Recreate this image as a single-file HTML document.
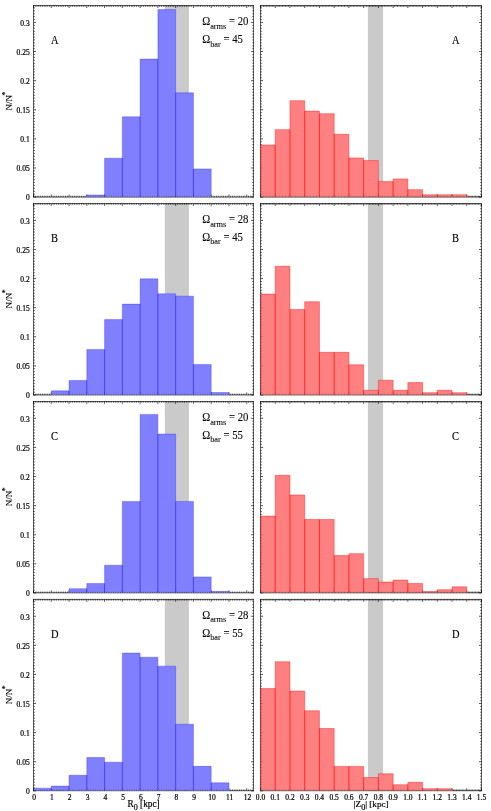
<!DOCTYPE html>
<html><head><meta charset="utf-8"><title>Histograms</title>
<style>html,body{margin:0;padding:0;background:#fff;}body{width:491px;height:811px;overflow:hidden;font-family:"Liberation Serif",serif;}</style>
</head><body>
<svg width="491" height="811" viewBox="0 0 491 811" style="display:block;will-change:transform;opacity:0.999;font-family:'Liberation Serif',serif">
<rect width="491" height="811" fill="#fff"/>
<defs>
<path id="tl" d="M33.5 191.6h2.5M253.7 191.6h-2.5M33.5 188.69h1.3M253.7 188.69h-1.3M33.5 185.78h1.3M253.7 185.78h-1.3M33.5 182.87h1.3M253.7 182.87h-1.3M33.5 179.96h1.3M253.7 179.96h-1.3M33.5 177.05h1.3M253.7 177.05h-1.3M33.5 174.14h1.3M253.7 174.14h-1.3M33.5 171.23h1.3M253.7 171.23h-1.3M33.5 168.32h1.3M253.7 168.32h-1.3M33.5 165.41h1.3M253.7 165.41h-1.3M33.5 162.5h2.5M253.7 162.5h-2.5M33.5 159.59h1.3M253.7 159.59h-1.3M33.5 156.68h1.3M253.7 156.68h-1.3M33.5 153.77h1.3M253.7 153.77h-1.3M33.5 150.86h1.3M253.7 150.86h-1.3M33.5 147.95h1.3M253.7 147.95h-1.3M33.5 145.04h1.3M253.7 145.04h-1.3M33.5 142.13h1.3M253.7 142.13h-1.3M33.5 139.22h1.3M253.7 139.22h-1.3M33.5 136.31h1.3M253.7 136.31h-1.3M33.5 133.4h2.5M253.7 133.4h-2.5M33.5 130.49h1.3M253.7 130.49h-1.3M33.5 127.58h1.3M253.7 127.58h-1.3M33.5 124.67h1.3M253.7 124.67h-1.3M33.5 121.76h1.3M253.7 121.76h-1.3M33.5 118.85h1.3M253.7 118.85h-1.3M33.5 115.94h1.3M253.7 115.94h-1.3M33.5 113.03h1.3M253.7 113.03h-1.3M33.5 110.12h1.3M253.7 110.12h-1.3M33.5 107.21h1.3M253.7 107.21h-1.3M33.5 104.3h2.5M253.7 104.3h-2.5M33.5 101.39h1.3M253.7 101.39h-1.3M33.5 98.48h1.3M253.7 98.48h-1.3M33.5 95.57h1.3M253.7 95.57h-1.3M33.5 92.66h1.3M253.7 92.66h-1.3M33.5 89.75h1.3M253.7 89.75h-1.3M33.5 86.84h1.3M253.7 86.84h-1.3M33.5 83.93h1.3M253.7 83.93h-1.3M33.5 81.02h1.3M253.7 81.02h-1.3M33.5 78.11h1.3M253.7 78.11h-1.3M33.5 75.2h2.5M253.7 75.2h-2.5M33.5 72.29h1.3M253.7 72.29h-1.3M33.5 69.38h1.3M253.7 69.38h-1.3M33.5 66.47h1.3M253.7 66.47h-1.3M33.5 63.56h1.3M253.7 63.56h-1.3M33.5 60.65h1.3M253.7 60.65h-1.3M33.5 57.74h1.3M253.7 57.74h-1.3M33.5 54.83h1.3M253.7 54.83h-1.3M33.5 51.92h1.3M253.7 51.92h-1.3M33.5 49.01h1.3M253.7 49.01h-1.3M33.5 46.1h2.5M253.7 46.1h-2.5M33.5 43.19h1.3M253.7 43.19h-1.3M33.5 40.28h1.3M253.7 40.28h-1.3M33.5 37.37h1.3M253.7 37.37h-1.3M33.5 34.46h1.3M253.7 34.46h-1.3M33.5 31.55h1.3M253.7 31.55h-1.3M33.5 28.64h1.3M253.7 28.64h-1.3M33.5 25.73h1.3M253.7 25.73h-1.3M33.5 22.82h1.3M253.7 22.82h-1.3M33.5 19.91h1.3M253.7 19.91h-1.3M33.5 17h2.5M253.7 17h-2.5M33.5 14.09h1.3M253.7 14.09h-1.3M33.5 11.18h1.3M253.7 11.18h-1.3M33.5 8.27h1.3M253.7 8.27h-1.3M33.5 5.36h1.3M253.7 5.36h-1.3M33.5 2.45h1.3M253.7 2.45h-1.3M33.5 0v2.5M33.5 191.6v-2.5M35.28 0v1.3M35.28 191.6v-1.3M37.05 0v1.3M37.05 191.6v-1.3M38.83 0v1.3M38.83 191.6v-1.3M40.61 0v1.3M40.61 191.6v-1.3M42.39 0v1.3M42.39 191.6v-1.3M44.16 0v1.3M44.16 191.6v-1.3M45.94 0v1.3M45.94 191.6v-1.3M47.72 0v1.3M47.72 191.6v-1.3M49.49 0v1.3M49.49 191.6v-1.3M51.27 0v2.5M51.27 191.6v-2.5M53.05 0v1.3M53.05 191.6v-1.3M54.82 0v1.3M54.82 191.6v-1.3M56.6 0v1.3M56.6 191.6v-1.3M58.38 0v1.3M58.38 191.6v-1.3M60.16 0v1.3M60.16 191.6v-1.3M61.93 0v1.3M61.93 191.6v-1.3M63.71 0v1.3M63.71 191.6v-1.3M65.49 0v1.3M65.49 191.6v-1.3M67.26 0v1.3M67.26 191.6v-1.3M69.04 0v2.5M69.04 191.6v-2.5M70.82 0v1.3M70.82 191.6v-1.3M72.59 0v1.3M72.59 191.6v-1.3M74.37 0v1.3M74.37 191.6v-1.3M76.15 0v1.3M76.15 191.6v-1.3M77.93 0v1.3M77.93 191.6v-1.3M79.7 0v1.3M79.7 191.6v-1.3M81.48 0v1.3M81.48 191.6v-1.3M83.26 0v1.3M83.26 191.6v-1.3M85.03 0v1.3M85.03 191.6v-1.3M86.81 0v2.5M86.81 191.6v-2.5M88.59 0v1.3M88.59 191.6v-1.3M90.36 0v1.3M90.36 191.6v-1.3M92.14 0v1.3M92.14 191.6v-1.3M93.92 0v1.3M93.92 191.6v-1.3M95.7 0v1.3M95.7 191.6v-1.3M97.47 0v1.3M97.47 191.6v-1.3M99.25 0v1.3M99.25 191.6v-1.3M101.03 0v1.3M101.03 191.6v-1.3M102.8 0v1.3M102.8 191.6v-1.3M104.58 0v2.5M104.58 191.6v-2.5M106.36 0v1.3M106.36 191.6v-1.3M108.13 0v1.3M108.13 191.6v-1.3M109.91 0v1.3M109.91 191.6v-1.3M111.69 0v1.3M111.69 191.6v-1.3M113.47 0v1.3M113.47 191.6v-1.3M115.24 0v1.3M115.24 191.6v-1.3M117.02 0v1.3M117.02 191.6v-1.3M118.8 0v1.3M118.8 191.6v-1.3M120.57 0v1.3M120.57 191.6v-1.3M122.35 0v2.5M122.35 191.6v-2.5M124.13 0v1.3M124.13 191.6v-1.3M125.9 0v1.3M125.9 191.6v-1.3M127.68 0v1.3M127.68 191.6v-1.3M129.46 0v1.3M129.46 191.6v-1.3M131.24 0v1.3M131.24 191.6v-1.3M133.01 0v1.3M133.01 191.6v-1.3M134.79 0v1.3M134.79 191.6v-1.3M136.57 0v1.3M136.57 191.6v-1.3M138.34 0v1.3M138.34 191.6v-1.3M140.12 0v2.5M140.12 191.6v-2.5M141.9 0v1.3M141.9 191.6v-1.3M143.67 0v1.3M143.67 191.6v-1.3M145.45 0v1.3M145.45 191.6v-1.3M147.23 0v1.3M147.23 191.6v-1.3M149 0v1.3M149 191.6v-1.3M150.78 0v1.3M150.78 191.6v-1.3M152.56 0v1.3M152.56 191.6v-1.3M154.34 0v1.3M154.34 191.6v-1.3M156.11 0v1.3M156.11 191.6v-1.3M157.89 0v2.5M157.89 191.6v-2.5M159.67 0v1.3M159.67 191.6v-1.3M161.44 0v1.3M161.44 191.6v-1.3M163.22 0v1.3M163.22 191.6v-1.3M165 0v1.3M165 191.6v-1.3M166.78 0v1.3M166.78 191.6v-1.3M168.55 0v1.3M168.55 191.6v-1.3M170.33 0v1.3M170.33 191.6v-1.3M172.11 0v1.3M172.11 191.6v-1.3M173.88 0v1.3M173.88 191.6v-1.3M175.66 0v2.5M175.66 191.6v-2.5M177.44 0v1.3M177.44 191.6v-1.3M179.21 0v1.3M179.21 191.6v-1.3M180.99 0v1.3M180.99 191.6v-1.3M182.77 0v1.3M182.77 191.6v-1.3M184.55 0v1.3M184.55 191.6v-1.3M186.32 0v1.3M186.32 191.6v-1.3M188.1 0v1.3M188.1 191.6v-1.3M189.88 0v1.3M189.88 191.6v-1.3M191.65 0v1.3M191.65 191.6v-1.3M193.43 0v2.5M193.43 191.6v-2.5M195.21 0v1.3M195.21 191.6v-1.3M196.98 0v1.3M196.98 191.6v-1.3M198.76 0v1.3M198.76 191.6v-1.3M200.54 0v1.3M200.54 191.6v-1.3M202.32 0v1.3M202.32 191.6v-1.3M204.09 0v1.3M204.09 191.6v-1.3M205.87 0v1.3M205.87 191.6v-1.3M207.65 0v1.3M207.65 191.6v-1.3M209.42 0v1.3M209.42 191.6v-1.3M211.2 0v2.5M211.2 191.6v-2.5M212.98 0v1.3M212.98 191.6v-1.3M214.75 0v1.3M214.75 191.6v-1.3M216.53 0v1.3M216.53 191.6v-1.3M218.31 0v1.3M218.31 191.6v-1.3M220.09 0v1.3M220.09 191.6v-1.3M221.86 0v1.3M221.86 191.6v-1.3M223.64 0v1.3M223.64 191.6v-1.3M225.42 0v1.3M225.42 191.6v-1.3M227.19 0v1.3M227.19 191.6v-1.3M228.97 0v2.5M228.97 191.6v-2.5M230.75 0v1.3M230.75 191.6v-1.3M232.52 0v1.3M232.52 191.6v-1.3M234.3 0v1.3M234.3 191.6v-1.3M236.08 0v1.3M236.08 191.6v-1.3M237.86 0v1.3M237.86 191.6v-1.3M239.63 0v1.3M239.63 191.6v-1.3M241.41 0v1.3M241.41 191.6v-1.3M243.19 0v1.3M243.19 191.6v-1.3M244.96 0v1.3M244.96 191.6v-1.3M246.74 0v2.5M246.74 191.6v-2.5M248.52 0v1.3M248.52 191.6v-1.3M250.29 0v1.3M250.29 191.6v-1.3M252.07 0v1.3M252.07 191.6v-1.3" fill="none" stroke="#000" stroke-opacity="0.8" stroke-width="0.75"/>
<path id="tr" d="M260.5 191.6h2.5M481.55 191.6h-2.5M260.5 188.69h1.3M481.55 188.69h-1.3M260.5 185.78h1.3M481.55 185.78h-1.3M260.5 182.87h1.3M481.55 182.87h-1.3M260.5 179.96h1.3M481.55 179.96h-1.3M260.5 177.05h1.3M481.55 177.05h-1.3M260.5 174.14h1.3M481.55 174.14h-1.3M260.5 171.23h1.3M481.55 171.23h-1.3M260.5 168.32h1.3M481.55 168.32h-1.3M260.5 165.41h1.3M481.55 165.41h-1.3M260.5 162.5h2.5M481.55 162.5h-2.5M260.5 159.59h1.3M481.55 159.59h-1.3M260.5 156.68h1.3M481.55 156.68h-1.3M260.5 153.77h1.3M481.55 153.77h-1.3M260.5 150.86h1.3M481.55 150.86h-1.3M260.5 147.95h1.3M481.55 147.95h-1.3M260.5 145.04h1.3M481.55 145.04h-1.3M260.5 142.13h1.3M481.55 142.13h-1.3M260.5 139.22h1.3M481.55 139.22h-1.3M260.5 136.31h1.3M481.55 136.31h-1.3M260.5 133.4h2.5M481.55 133.4h-2.5M260.5 130.49h1.3M481.55 130.49h-1.3M260.5 127.58h1.3M481.55 127.58h-1.3M260.5 124.67h1.3M481.55 124.67h-1.3M260.5 121.76h1.3M481.55 121.76h-1.3M260.5 118.85h1.3M481.55 118.85h-1.3M260.5 115.94h1.3M481.55 115.94h-1.3M260.5 113.03h1.3M481.55 113.03h-1.3M260.5 110.12h1.3M481.55 110.12h-1.3M260.5 107.21h1.3M481.55 107.21h-1.3M260.5 104.3h2.5M481.55 104.3h-2.5M260.5 101.39h1.3M481.55 101.39h-1.3M260.5 98.48h1.3M481.55 98.48h-1.3M260.5 95.57h1.3M481.55 95.57h-1.3M260.5 92.66h1.3M481.55 92.66h-1.3M260.5 89.75h1.3M481.55 89.75h-1.3M260.5 86.84h1.3M481.55 86.84h-1.3M260.5 83.93h1.3M481.55 83.93h-1.3M260.5 81.02h1.3M481.55 81.02h-1.3M260.5 78.11h1.3M481.55 78.11h-1.3M260.5 75.2h2.5M481.55 75.2h-2.5M260.5 72.29h1.3M481.55 72.29h-1.3M260.5 69.38h1.3M481.55 69.38h-1.3M260.5 66.47h1.3M481.55 66.47h-1.3M260.5 63.56h1.3M481.55 63.56h-1.3M260.5 60.65h1.3M481.55 60.65h-1.3M260.5 57.74h1.3M481.55 57.74h-1.3M260.5 54.83h1.3M481.55 54.83h-1.3M260.5 51.92h1.3M481.55 51.92h-1.3M260.5 49.01h1.3M481.55 49.01h-1.3M260.5 46.1h2.5M481.55 46.1h-2.5M260.5 43.19h1.3M481.55 43.19h-1.3M260.5 40.28h1.3M481.55 40.28h-1.3M260.5 37.37h1.3M481.55 37.37h-1.3M260.5 34.46h1.3M481.55 34.46h-1.3M260.5 31.55h1.3M481.55 31.55h-1.3M260.5 28.64h1.3M481.55 28.64h-1.3M260.5 25.73h1.3M481.55 25.73h-1.3M260.5 22.82h1.3M481.55 22.82h-1.3M260.5 19.91h1.3M481.55 19.91h-1.3M260.5 17h2.5M481.55 17h-2.5M260.5 14.09h1.3M481.55 14.09h-1.3M260.5 11.18h1.3M481.55 11.18h-1.3M260.5 8.27h1.3M481.55 8.27h-1.3M260.5 5.36h1.3M481.55 5.36h-1.3M260.5 2.45h1.3M481.55 2.45h-1.3M260.5 0v2.5M260.5 191.6v-2.5M261.97 0v1.3M261.97 191.6v-1.3M263.45 0v1.3M263.45 191.6v-1.3M264.92 0v1.3M264.92 191.6v-1.3M266.39 0v1.3M266.39 191.6v-1.3M267.87 0v1.3M267.87 191.6v-1.3M269.34 0v1.3M269.34 191.6v-1.3M270.81 0v1.3M270.81 191.6v-1.3M272.29 0v1.3M272.29 191.6v-1.3M273.76 0v1.3M273.76 191.6v-1.3M275.23 0v2.5M275.23 191.6v-2.5M276.71 0v1.3M276.71 191.6v-1.3M278.18 0v1.3M278.18 191.6v-1.3M279.65 0v1.3M279.65 191.6v-1.3M281.13 0v1.3M281.13 191.6v-1.3M282.6 0v1.3M282.6 191.6v-1.3M284.07 0v1.3M284.07 191.6v-1.3M285.55 0v1.3M285.55 191.6v-1.3M287.02 0v1.3M287.02 191.6v-1.3M288.49 0v1.3M288.49 191.6v-1.3M289.97 0v2.5M289.97 191.6v-2.5M291.44 0v1.3M291.44 191.6v-1.3M292.91 0v1.3M292.91 191.6v-1.3M294.39 0v1.3M294.39 191.6v-1.3M295.86 0v1.3M295.86 191.6v-1.3M297.33 0v1.3M297.33 191.6v-1.3M298.81 0v1.3M298.81 191.6v-1.3M300.28 0v1.3M300.28 191.6v-1.3M301.75 0v1.3M301.75 191.6v-1.3M303.23 0v1.3M303.23 191.6v-1.3M304.7 0v2.5M304.7 191.6v-2.5M306.17 0v1.3M306.17 191.6v-1.3M307.65 0v1.3M307.65 191.6v-1.3M309.12 0v1.3M309.12 191.6v-1.3M310.59 0v1.3M310.59 191.6v-1.3M312.07 0v1.3M312.07 191.6v-1.3M313.54 0v1.3M313.54 191.6v-1.3M315.01 0v1.3M315.01 191.6v-1.3M316.49 0v1.3M316.49 191.6v-1.3M317.96 0v1.3M317.96 191.6v-1.3M319.43 0v2.5M319.43 191.6v-2.5M320.91 0v1.3M320.91 191.6v-1.3M322.38 0v1.3M322.38 191.6v-1.3M323.85 0v1.3M323.85 191.6v-1.3M325.33 0v1.3M325.33 191.6v-1.3M326.8 0v1.3M326.8 191.6v-1.3M328.27 0v1.3M328.27 191.6v-1.3M329.75 0v1.3M329.75 191.6v-1.3M331.22 0v1.3M331.22 191.6v-1.3M332.69 0v1.3M332.69 191.6v-1.3M334.17 0v2.5M334.17 191.6v-2.5M335.64 0v1.3M335.64 191.6v-1.3M337.11 0v1.3M337.11 191.6v-1.3M338.58 0v1.3M338.58 191.6v-1.3M340.06 0v1.3M340.06 191.6v-1.3M341.53 0v1.3M341.53 191.6v-1.3M343 0v1.3M343 191.6v-1.3M344.48 0v1.3M344.48 191.6v-1.3M345.95 0v1.3M345.95 191.6v-1.3M347.42 0v1.3M347.42 191.6v-1.3M348.9 0v2.5M348.9 191.6v-2.5M350.37 0v1.3M350.37 191.6v-1.3M351.84 0v1.3M351.84 191.6v-1.3M353.32 0v1.3M353.32 191.6v-1.3M354.79 0v1.3M354.79 191.6v-1.3M356.26 0v1.3M356.26 191.6v-1.3M357.74 0v1.3M357.74 191.6v-1.3M359.21 0v1.3M359.21 191.6v-1.3M360.68 0v1.3M360.68 191.6v-1.3M362.16 0v1.3M362.16 191.6v-1.3M363.63 0v2.5M363.63 191.6v-2.5M365.1 0v1.3M365.1 191.6v-1.3M366.58 0v1.3M366.58 191.6v-1.3M368.05 0v1.3M368.05 191.6v-1.3M369.52 0v1.3M369.52 191.6v-1.3M371 0v1.3M371 191.6v-1.3M372.47 0v1.3M372.47 191.6v-1.3M373.94 0v1.3M373.94 191.6v-1.3M375.42 0v1.3M375.42 191.6v-1.3M376.89 0v1.3M376.89 191.6v-1.3M378.36 0v2.5M378.36 191.6v-2.5M379.84 0v1.3M379.84 191.6v-1.3M381.31 0v1.3M381.31 191.6v-1.3M382.78 0v1.3M382.78 191.6v-1.3M384.26 0v1.3M384.26 191.6v-1.3M385.73 0v1.3M385.73 191.6v-1.3M387.2 0v1.3M387.2 191.6v-1.3M388.68 0v1.3M388.68 191.6v-1.3M390.15 0v1.3M390.15 191.6v-1.3M391.62 0v1.3M391.62 191.6v-1.3M393.1 0v2.5M393.1 191.6v-2.5M394.57 0v1.3M394.57 191.6v-1.3M396.04 0v1.3M396.04 191.6v-1.3M397.52 0v1.3M397.52 191.6v-1.3M398.99 0v1.3M398.99 191.6v-1.3M400.46 0v1.3M400.46 191.6v-1.3M401.94 0v1.3M401.94 191.6v-1.3M403.41 0v1.3M403.41 191.6v-1.3M404.88 0v1.3M404.88 191.6v-1.3M406.36 0v1.3M406.36 191.6v-1.3M407.83 0v2.5M407.83 191.6v-2.5M409.3 0v1.3M409.3 191.6v-1.3M410.78 0v1.3M410.78 191.6v-1.3M412.25 0v1.3M412.25 191.6v-1.3M413.72 0v1.3M413.72 191.6v-1.3M415.2 0v1.3M415.2 191.6v-1.3M416.67 0v1.3M416.67 191.6v-1.3M418.14 0v1.3M418.14 191.6v-1.3M419.62 0v1.3M419.62 191.6v-1.3M421.09 0v1.3M421.09 191.6v-1.3M422.56 0v2.5M422.56 191.6v-2.5M424.04 0v1.3M424.04 191.6v-1.3M425.51 0v1.3M425.51 191.6v-1.3M426.98 0v1.3M426.98 191.6v-1.3M428.46 0v1.3M428.46 191.6v-1.3M429.93 0v1.3M429.93 191.6v-1.3M431.4 0v1.3M431.4 191.6v-1.3M432.88 0v1.3M432.88 191.6v-1.3M434.35 0v1.3M434.35 191.6v-1.3M435.82 0v1.3M435.82 191.6v-1.3M437.3 0v2.5M437.3 191.6v-2.5M438.77 0v1.3M438.77 191.6v-1.3M440.24 0v1.3M440.24 191.6v-1.3M441.72 0v1.3M441.72 191.6v-1.3M443.19 0v1.3M443.19 191.6v-1.3M444.66 0v1.3M444.66 191.6v-1.3M446.14 0v1.3M446.14 191.6v-1.3M447.61 0v1.3M447.61 191.6v-1.3M449.08 0v1.3M449.08 191.6v-1.3M450.56 0v1.3M450.56 191.6v-1.3M452.03 0v2.5M452.03 191.6v-2.5M453.5 0v1.3M453.5 191.6v-1.3M454.98 0v1.3M454.98 191.6v-1.3M456.45 0v1.3M456.45 191.6v-1.3M457.92 0v1.3M457.92 191.6v-1.3M459.4 0v1.3M459.4 191.6v-1.3M460.87 0v1.3M460.87 191.6v-1.3M462.34 0v1.3M462.34 191.6v-1.3M463.82 0v1.3M463.82 191.6v-1.3M465.29 0v1.3M465.29 191.6v-1.3M466.76 0v2.5M466.76 191.6v-2.5M468.24 0v1.3M468.24 191.6v-1.3M469.71 0v1.3M469.71 191.6v-1.3M471.18 0v1.3M471.18 191.6v-1.3M472.66 0v1.3M472.66 191.6v-1.3M474.13 0v1.3M474.13 191.6v-1.3M475.6 0v1.3M475.6 191.6v-1.3M477.08 0v1.3M477.08 191.6v-1.3M478.55 0v1.3M478.55 191.6v-1.3M480.02 0v1.3M480.02 191.6v-1.3M481.5 0v2.5M481.5 191.6v-2.5" fill="none" stroke="#000" stroke-opacity="0.8" stroke-width="0.75"/>
</defs>
<rect x="164.82" y="5.47" width="24.08" height="191.6" fill="#cacaca"/>
<use href="#tl" y="5.47"/>
<rect x="33.5" y="5.47" width="220.2" height="191.6" fill="none" stroke="#000" stroke-width="0.62"/>
<path d="M86.81 196.77V194.95H104.58V196.77ZM104.58 196.77V158.17H122.35V196.77ZM122.35 196.77V116.79H140.12V196.77ZM140.12 196.77V59.05H157.89V196.77ZM157.89 196.77V9.58H175.66V196.77ZM175.66 196.77V92.81H193.43V196.77ZM193.43 196.77V168.88H211.2V196.77Z" fill="#8080ff"/>
<path d="M86.81 196.77V194.95H104.58V196.77M104.58 196.77V158.17H122.35V196.77M122.35 196.77V116.79H140.12V196.77M140.12 196.77V59.05H157.89V196.77M157.89 196.77V9.58H175.66V196.77M175.66 196.77V92.81H193.43V196.77M193.43 196.77V168.88H211.2V196.77" fill="none" stroke="#0000ff" stroke-opacity="0.27" stroke-width="1"/>
<use href="#tl" y="5.47" opacity="0.3"/>
<rect x="367.9" y="5.47" width="15.17" height="191.6" fill="#cacaca"/>
<use href="#tr" y="5.47"/>
<rect x="260.5" y="5.47" width="221.05" height="191.6" fill="none" stroke="#000" stroke-width="0.62"/>
<path d="M260.85 196.77V144.96H275.23V196.77ZM275.23 196.77V129.65H289.97V196.77ZM289.97 196.77V100.67H304.7V196.77ZM304.7 196.77V111.08H319.43V196.77ZM319.43 196.77V113.7H334.17V196.77ZM334.17 196.77V134.25H348.9V196.77ZM348.9 196.77V157.99H363.63V196.77ZM363.63 196.77V160.61H378.36V196.77ZM378.36 196.77V181.45H393.1V196.77ZM393.1 196.77V178.89H407.83V196.77ZM407.83 196.77V189.65H422.56V196.77ZM422.56 196.77V194.78H437.3V196.77ZM437.3 196.77V194.78H452.03V196.77ZM452.03 196.77V194.78H466.76V196.77Z" fill="#ff8080"/>
<path d="M260.85 196.77V144.96H275.23V196.77M275.23 196.77V129.65H289.97V196.77M289.97 196.77V100.67H304.7V196.77M304.7 196.77V111.08H319.43V196.77M319.43 196.77V113.7H334.17V196.77M334.17 196.77V134.25H348.9V196.77M348.9 196.77V157.99H363.63V196.77M363.63 196.77V160.61H378.36V196.77M378.36 196.77V181.45H393.1V196.77M393.1 196.77V178.89H407.83V196.77M407.83 196.77V189.65H422.56V196.77M422.56 196.77V194.78H437.3V196.77M437.3 196.77V194.78H452.03V196.77M452.03 196.77V194.78H466.76V196.77" fill="none" stroke="#ff0000" stroke-opacity="0.38" stroke-width="1"/>
<use href="#tr" y="5.47" opacity="0.3"/>
<text transform="translate(29.7 200.47) scale(0.94 1)" font-size="8" text-anchor="end" stroke="#000" stroke-width="0.22">0</text>
<text transform="translate(29.7 171.37) scale(0.94 1)" font-size="8" text-anchor="end" stroke="#000" stroke-width="0.22">0.05</text>
<text transform="translate(29.7 142.27) scale(0.94 1)" font-size="8" text-anchor="end" stroke="#000" stroke-width="0.22">0.1</text>
<text transform="translate(29.7 113.17) scale(0.94 1)" font-size="8" text-anchor="end" stroke="#000" stroke-width="0.22">0.15</text>
<text transform="translate(29.7 84.07) scale(0.94 1)" font-size="8" text-anchor="end" stroke="#000" stroke-width="0.22">0.2</text>
<text transform="translate(29.7 54.97) scale(0.94 1)" font-size="8" text-anchor="end" stroke="#000" stroke-width="0.22">0.25</text>
<text transform="translate(29.7 25.87) scale(0.94 1)" font-size="8" text-anchor="end" stroke="#000" stroke-width="0.22">0.3</text>
<text transform="translate(12.1 110.47) rotate(-90)" font-size="9.1" stroke="#000" stroke-width="0.1">N/N<tspan dy="-4.2" dx="-0.6" font-size="7.5">*</tspan></text>
<text transform="translate(51.1 43.97) scale(0.9 1)" font-size="11.6" stroke="#000" stroke-width="0.15">A</text>
<text transform="translate(451.9 43.97) scale(0.9 1)" font-size="11.6" stroke="#000" stroke-width="0.15">A</text>
<text transform="translate(202.2 25.27) scale(0.915 1)" font-size="11.7" stroke="#000" stroke-width="0.08">Ω<tspan dy="3.4" font-size="9.1">arms</tspan><tspan dy="-3.4"> = 20</tspan></text>
<text transform="translate(202.2 43.17) scale(0.915 1)" font-size="11.7" stroke="#000" stroke-width="0.08">Ω<tspan dy="3.4" font-size="9.1">bar</tspan><tspan dy="-3.4"> = 45</tspan></text>
<rect x="164.82" y="203.39" width="24.08" height="191.6" fill="#cacaca"/>
<use href="#tl" y="203.39"/>
<rect x="33.5" y="203.39" width="220.2" height="191.6" fill="none" stroke="#000" stroke-width="0.62"/>
<path d="M51.27 394.69V390.83H69.04V394.69ZM69.04 394.69V380.47H86.81V394.69ZM86.81 394.69V349.57H104.58V394.69ZM104.58 394.69V319.6H122.35V394.69ZM122.35 394.69V304.12H140.12V394.69ZM140.12 394.69V278.8H157.89V394.69ZM157.89 394.69V293.81H175.66V394.69ZM175.66 394.69V296.14H193.43V394.69ZM193.43 394.69V364.53H211.2V394.69ZM211.2 394.69V392.46H228.97V394.69Z" fill="#8080ff"/>
<path d="M51.27 394.69V390.83H69.04V394.69M69.04 394.69V380.47H86.81V394.69M86.81 394.69V349.57H104.58V394.69M104.58 394.69V319.6H122.35V394.69M122.35 394.69V304.12H140.12V394.69M140.12 394.69V278.8H157.89V394.69M157.89 394.69V293.81H175.66V394.69M175.66 394.69V296.14H193.43V394.69M193.43 394.69V364.53H211.2V394.69M211.2 394.69V392.46H228.97V394.69" fill="none" stroke="#0000ff" stroke-opacity="0.27" stroke-width="1"/>
<use href="#tl" y="203.39" opacity="0.3"/>
<rect x="367.9" y="203.39" width="15.17" height="191.6" fill="#cacaca"/>
<use href="#tr" y="203.39"/>
<rect x="260.5" y="203.39" width="221.05" height="191.6" fill="none" stroke="#000" stroke-width="0.62"/>
<path d="M260.85 394.69V294.11H275.23V394.69ZM275.23 394.69V266.29H289.97V394.69ZM289.97 394.69V309.47H304.7V394.69ZM304.7 394.69V301.79H319.43V394.69ZM319.43 394.69V352.31H334.17V394.69ZM334.17 394.69V352.31H348.9V394.69ZM348.9 394.69V364.82H363.63V394.69ZM363.63 394.69V390.25H378.36V394.69ZM378.36 394.69V380.18H393.1V394.69ZM393.1 394.69V390.25H407.83V394.69ZM407.83 394.69V382.57H422.56V394.69ZM422.56 394.69V392.7H437.3V394.69ZM437.3 394.69V390.25H452.03V394.69ZM452.03 394.69V392.7H466.76V394.69Z" fill="#ff8080"/>
<path d="M260.85 394.69V294.11H275.23V394.69M275.23 394.69V266.29H289.97V394.69M289.97 394.69V309.47H304.7V394.69M304.7 394.69V301.79H319.43V394.69M319.43 394.69V352.31H334.17V394.69M334.17 394.69V352.31H348.9V394.69M348.9 394.69V364.82H363.63V394.69M363.63 394.69V390.25H378.36V394.69M378.36 394.69V380.18H393.1V394.69M393.1 394.69V390.25H407.83V394.69M407.83 394.69V382.57H422.56V394.69M422.56 394.69V392.7H437.3V394.69M437.3 394.69V390.25H452.03V394.69M452.03 394.69V392.7H466.76V394.69" fill="none" stroke="#ff0000" stroke-opacity="0.38" stroke-width="1"/>
<use href="#tr" y="203.39" opacity="0.3"/>
<text transform="translate(29.7 398.39) scale(0.94 1)" font-size="8" text-anchor="end" stroke="#000" stroke-width="0.22">0</text>
<text transform="translate(29.7 369.29) scale(0.94 1)" font-size="8" text-anchor="end" stroke="#000" stroke-width="0.22">0.05</text>
<text transform="translate(29.7 340.19) scale(0.94 1)" font-size="8" text-anchor="end" stroke="#000" stroke-width="0.22">0.1</text>
<text transform="translate(29.7 311.09) scale(0.94 1)" font-size="8" text-anchor="end" stroke="#000" stroke-width="0.22">0.15</text>
<text transform="translate(29.7 281.99) scale(0.94 1)" font-size="8" text-anchor="end" stroke="#000" stroke-width="0.22">0.2</text>
<text transform="translate(29.7 252.89) scale(0.94 1)" font-size="8" text-anchor="end" stroke="#000" stroke-width="0.22">0.25</text>
<text transform="translate(29.7 223.79) scale(0.94 1)" font-size="8" text-anchor="end" stroke="#000" stroke-width="0.22">0.3</text>
<text transform="translate(12.1 308.39) rotate(-90)" font-size="9.1" stroke="#000" stroke-width="0.1">N/N<tspan dy="-4.2" dx="-0.6" font-size="7.5">*</tspan></text>
<text transform="translate(51.1 241.89) scale(0.9 1)" font-size="11.6" stroke="#000" stroke-width="0.15">B</text>
<text transform="translate(451.9 241.89) scale(0.9 1)" font-size="11.6" stroke="#000" stroke-width="0.15">B</text>
<text transform="translate(202.2 223.19) scale(0.915 1)" font-size="11.7" stroke="#000" stroke-width="0.08">Ω<tspan dy="3.4" font-size="9.1">arms</tspan><tspan dy="-3.4"> = 28</tspan></text>
<text transform="translate(202.2 241.09) scale(0.915 1)" font-size="11.7" stroke="#000" stroke-width="0.08">Ω<tspan dy="3.4" font-size="9.1">bar</tspan><tspan dy="-3.4"> = 45</tspan></text>
<rect x="164.82" y="401.31" width="24.08" height="191.6" fill="#cacaca"/>
<use href="#tl" y="401.31"/>
<rect x="33.5" y="401.31" width="220.2" height="191.6" fill="none" stroke="#000" stroke-width="0.62"/>
<path d="M69.04 592.61V588.64H86.81V592.61ZM86.81 592.61V583.46H104.58V592.61ZM104.58 592.61V565.18H122.35V592.61ZM122.35 592.61V501.45H140.12V592.61ZM140.12 592.61V414.39H157.89V592.61ZM157.89 592.61V434.06H175.66V592.61ZM175.66 592.61V501.45H193.43V592.61ZM193.43 592.61V576.88H211.2V592.61ZM211.2 592.61V591.43H228.97V592.61Z" fill="#8080ff"/>
<path d="M69.04 592.61V588.64H86.81V592.61M86.81 592.61V583.46H104.58V592.61M104.58 592.61V565.18H122.35V592.61M122.35 592.61V501.45H140.12V592.61M140.12 592.61V414.39H157.89V592.61M157.89 592.61V434.06H175.66V592.61M175.66 592.61V501.45H193.43V592.61M193.43 592.61V576.88H211.2V592.61M211.2 592.61V591.43H228.97V592.61" fill="none" stroke="#0000ff" stroke-opacity="0.27" stroke-width="1"/>
<use href="#tl" y="401.31" opacity="0.3"/>
<rect x="367.9" y="401.31" width="15.17" height="191.6" fill="#cacaca"/>
<use href="#tr" y="401.31"/>
<rect x="260.5" y="401.31" width="221.05" height="191.6" fill="none" stroke="#000" stroke-width="0.62"/>
<path d="M260.85 592.61V516.12H275.23V592.61ZM275.23 592.61V475.32H289.97V592.61ZM289.97 592.61V494.99H304.7V592.61ZM304.7 592.61V519.5H319.43V592.61ZM319.43 592.61V519.5H334.17V592.61ZM334.17 592.61V555.58H348.9V592.61ZM348.9 592.61V553.66H363.63V592.61ZM363.63 592.61V578.63H378.36V592.61ZM378.36 592.61V582H393.1V592.61ZM393.1 592.61V580.08H407.83V592.61ZM407.83 592.61V583.46H422.56V592.61ZM422.56 592.61V591.66H437.3V592.61ZM437.3 592.61V589.69H452.03V592.61ZM452.03 592.61V586.83H466.76V592.61Z" fill="#ff8080"/>
<path d="M260.85 592.61V516.12H275.23V592.61M275.23 592.61V475.32H289.97V592.61M289.97 592.61V494.99H304.7V592.61M304.7 592.61V519.5H319.43V592.61M319.43 592.61V519.5H334.17V592.61M334.17 592.61V555.58H348.9V592.61M348.9 592.61V553.66H363.63V592.61M363.63 592.61V578.63H378.36V592.61M378.36 592.61V582H393.1V592.61M393.1 592.61V580.08H407.83V592.61M407.83 592.61V583.46H422.56V592.61M422.56 592.61V591.66H437.3V592.61M437.3 592.61V589.69H452.03V592.61M452.03 592.61V586.83H466.76V592.61" fill="none" stroke="#ff0000" stroke-opacity="0.38" stroke-width="1"/>
<use href="#tr" y="401.31" opacity="0.3"/>
<text transform="translate(29.7 596.31) scale(0.94 1)" font-size="8" text-anchor="end" stroke="#000" stroke-width="0.22">0</text>
<text transform="translate(29.7 567.21) scale(0.94 1)" font-size="8" text-anchor="end" stroke="#000" stroke-width="0.22">0.05</text>
<text transform="translate(29.7 538.11) scale(0.94 1)" font-size="8" text-anchor="end" stroke="#000" stroke-width="0.22">0.1</text>
<text transform="translate(29.7 509.01) scale(0.94 1)" font-size="8" text-anchor="end" stroke="#000" stroke-width="0.22">0.15</text>
<text transform="translate(29.7 479.91) scale(0.94 1)" font-size="8" text-anchor="end" stroke="#000" stroke-width="0.22">0.2</text>
<text transform="translate(29.7 450.81) scale(0.94 1)" font-size="8" text-anchor="end" stroke="#000" stroke-width="0.22">0.25</text>
<text transform="translate(29.7 421.71) scale(0.94 1)" font-size="8" text-anchor="end" stroke="#000" stroke-width="0.22">0.3</text>
<text transform="translate(12.1 506.31) rotate(-90)" font-size="9.1" stroke="#000" stroke-width="0.1">N/N<tspan dy="-4.2" dx="-0.6" font-size="7.5">*</tspan></text>
<text transform="translate(51.1 439.81) scale(0.9 1)" font-size="11.6" stroke="#000" stroke-width="0.15">C</text>
<text transform="translate(451.9 439.81) scale(0.9 1)" font-size="11.6" stroke="#000" stroke-width="0.15">C</text>
<text transform="translate(202.2 421.11) scale(0.915 1)" font-size="11.7" stroke="#000" stroke-width="0.08">Ω<tspan dy="3.4" font-size="9.1">arms</tspan><tspan dy="-3.4"> = 20</tspan></text>
<text transform="translate(202.2 439.01) scale(0.915 1)" font-size="11.7" stroke="#000" stroke-width="0.08">Ω<tspan dy="3.4" font-size="9.1">bar</tspan><tspan dy="-3.4"> = 55</tspan></text>
<rect x="164.82" y="599.23" width="24.08" height="191.6" fill="#cacaca"/>
<use href="#tl" y="599.23"/>
<rect x="33.5" y="599.23" width="220.2" height="191.6" fill="none" stroke="#000" stroke-width="0.62"/>
<path d="M33.85 790.53V788.13H51.27V790.53ZM51.27 790.53V786.09H69.04V790.53ZM69.04 790.53V775.27H86.81V790.53ZM86.81 790.53V757.46H104.58V790.53ZM104.58 790.53V762.23H122.35V790.53ZM122.35 790.53V653.05H140.12V790.53ZM140.12 790.53V657.24H157.89V790.53ZM157.89 790.53V666.14H175.66V790.53ZM175.66 790.53V724.23H193.43V790.53ZM193.43 790.53V766.36H211.2V790.53ZM211.2 790.53V782.77H228.97V790.53Z" fill="#8080ff"/>
<path d="M33.85 790.53V788.13H51.27V790.53M51.27 790.53V786.09H69.04V790.53M69.04 790.53V775.27H86.81V790.53M86.81 790.53V757.46H104.58V790.53M104.58 790.53V762.23H122.35V790.53M122.35 790.53V653.05H140.12V790.53M140.12 790.53V657.24H157.89V790.53M157.89 790.53V666.14H175.66V790.53M175.66 790.53V724.23H193.43V790.53M193.43 790.53V766.36H211.2V790.53M211.2 790.53V782.77H228.97V790.53" fill="none" stroke="#0000ff" stroke-opacity="0.27" stroke-width="1"/>
<use href="#tl" y="599.23" opacity="0.3"/>
<rect x="367.9" y="599.23" width="15.17" height="191.6" fill="#cacaca"/>
<use href="#tr" y="599.23"/>
<rect x="260.5" y="599.23" width="221.05" height="191.6" fill="none" stroke="#000" stroke-width="0.62"/>
<path d="M260.85 790.53V688.61H275.23V790.53ZM275.23 790.53V661.72H289.97V790.53ZM289.97 790.53V691.05H304.7V790.53ZM304.7 790.53V710.72H319.43V790.53ZM319.43 790.53V728.53H334.17V790.53ZM334.17 790.53V766.42H348.9V790.53ZM348.9 790.53V766.42H363.63V790.53ZM363.63 790.53V777.54H378.36V790.53ZM378.36 790.53V773.75H393.1V790.53ZM393.1 790.53V784.75H407.83V790.53ZM407.83 790.53V782.31H422.56V790.53ZM422.56 790.53V788.65H437.3V790.53ZM437.3 790.53V788.65H452.03V790.53Z" fill="#ff8080"/>
<path d="M260.85 790.53V688.61H275.23V790.53M275.23 790.53V661.72H289.97V790.53M289.97 790.53V691.05H304.7V790.53M304.7 790.53V710.72H319.43V790.53M319.43 790.53V728.53H334.17V790.53M334.17 790.53V766.42H348.9V790.53M348.9 790.53V766.42H363.63V790.53M363.63 790.53V777.54H378.36V790.53M378.36 790.53V773.75H393.1V790.53M393.1 790.53V784.75H407.83V790.53M407.83 790.53V782.31H422.56V790.53M422.56 790.53V788.65H437.3V790.53M437.3 790.53V788.65H452.03V790.53" fill="none" stroke="#ff0000" stroke-opacity="0.38" stroke-width="1"/>
<use href="#tr" y="599.23" opacity="0.3"/>
<text transform="translate(29.7 794.23) scale(0.94 1)" font-size="8" text-anchor="end" stroke="#000" stroke-width="0.22">0</text>
<text transform="translate(29.7 765.13) scale(0.94 1)" font-size="8" text-anchor="end" stroke="#000" stroke-width="0.22">0.05</text>
<text transform="translate(29.7 736.03) scale(0.94 1)" font-size="8" text-anchor="end" stroke="#000" stroke-width="0.22">0.1</text>
<text transform="translate(29.7 706.93) scale(0.94 1)" font-size="8" text-anchor="end" stroke="#000" stroke-width="0.22">0.15</text>
<text transform="translate(29.7 677.83) scale(0.94 1)" font-size="8" text-anchor="end" stroke="#000" stroke-width="0.22">0.2</text>
<text transform="translate(29.7 648.73) scale(0.94 1)" font-size="8" text-anchor="end" stroke="#000" stroke-width="0.22">0.25</text>
<text transform="translate(29.7 619.63) scale(0.94 1)" font-size="8" text-anchor="end" stroke="#000" stroke-width="0.22">0.3</text>
<text transform="translate(12.1 704.23) rotate(-90)" font-size="9.1" stroke="#000" stroke-width="0.1">N/N<tspan dy="-4.2" dx="-0.6" font-size="7.5">*</tspan></text>
<text transform="translate(51.1 637.73) scale(0.9 1)" font-size="11.6" stroke="#000" stroke-width="0.15">D</text>
<text transform="translate(451.9 637.73) scale(0.9 1)" font-size="11.6" stroke="#000" stroke-width="0.15">D</text>
<text transform="translate(202.2 619.03) scale(0.915 1)" font-size="11.7" stroke="#000" stroke-width="0.08">Ω<tspan dy="3.4" font-size="9.1">arms</tspan><tspan dy="-3.4"> = 28</tspan></text>
<text transform="translate(202.2 636.93) scale(0.915 1)" font-size="11.7" stroke="#000" stroke-width="0.08">Ω<tspan dy="3.4" font-size="9.1">bar</tspan><tspan dy="-3.4"> = 55</tspan></text>
<text transform="translate(34.2 799.5) scale(0.94 1)" font-size="8" text-anchor="middle" stroke="#000" stroke-width="0.22">0</text>
<text transform="translate(51.97 799.5) scale(0.94 1)" font-size="8" text-anchor="middle" stroke="#000" stroke-width="0.22">1</text>
<text transform="translate(69.74 799.5) scale(0.94 1)" font-size="8" text-anchor="middle" stroke="#000" stroke-width="0.22">2</text>
<text transform="translate(87.51 799.5) scale(0.94 1)" font-size="8" text-anchor="middle" stroke="#000" stroke-width="0.22">3</text>
<text transform="translate(105.28 799.5) scale(0.94 1)" font-size="8" text-anchor="middle" stroke="#000" stroke-width="0.22">4</text>
<text transform="translate(123.05 799.5) scale(0.94 1)" font-size="8" text-anchor="middle" stroke="#000" stroke-width="0.22">5</text>
<text transform="translate(140.82 799.5) scale(0.94 1)" font-size="8" text-anchor="middle" stroke="#000" stroke-width="0.22">6</text>
<text transform="translate(158.59 799.5) scale(0.94 1)" font-size="8" text-anchor="middle" stroke="#000" stroke-width="0.22">7</text>
<text transform="translate(176.36 799.5) scale(0.94 1)" font-size="8" text-anchor="middle" stroke="#000" stroke-width="0.22">8</text>
<text transform="translate(194.13 799.5) scale(0.94 1)" font-size="8" text-anchor="middle" stroke="#000" stroke-width="0.22">9</text>
<text transform="translate(211.9 799.5) scale(0.94 1)" font-size="8" text-anchor="middle" stroke="#000" stroke-width="0.22">10</text>
<text transform="translate(229.67 799.5) scale(0.94 1)" font-size="8" text-anchor="middle" stroke="#000" stroke-width="0.22">11</text>
<text transform="translate(247.44 799.5) scale(0.94 1)" font-size="8" text-anchor="middle" stroke="#000" stroke-width="0.22">12</text>
<text transform="translate(260.5 799.5) scale(0.94 1)" font-size="8" text-anchor="middle" stroke="#000" stroke-width="0.22">0.0</text>
<text transform="translate(275.23 799.5) scale(0.94 1)" font-size="8" text-anchor="middle" stroke="#000" stroke-width="0.22">0.1</text>
<text transform="translate(289.97 799.5) scale(0.94 1)" font-size="8" text-anchor="middle" stroke="#000" stroke-width="0.22">0.2</text>
<text transform="translate(304.7 799.5) scale(0.94 1)" font-size="8" text-anchor="middle" stroke="#000" stroke-width="0.22">0.3</text>
<text transform="translate(319.43 799.5) scale(0.94 1)" font-size="8" text-anchor="middle" stroke="#000" stroke-width="0.22">0.4</text>
<text transform="translate(334.17 799.5) scale(0.94 1)" font-size="8" text-anchor="middle" stroke="#000" stroke-width="0.22">0.5</text>
<text transform="translate(348.9 799.5) scale(0.94 1)" font-size="8" text-anchor="middle" stroke="#000" stroke-width="0.22">0.6</text>
<text transform="translate(363.63 799.5) scale(0.94 1)" font-size="8" text-anchor="middle" stroke="#000" stroke-width="0.22">0.7</text>
<text transform="translate(378.36 799.5) scale(0.94 1)" font-size="8" text-anchor="middle" stroke="#000" stroke-width="0.22">0.8</text>
<text transform="translate(393.1 799.5) scale(0.94 1)" font-size="8" text-anchor="middle" stroke="#000" stroke-width="0.22">0.9</text>
<text transform="translate(407.83 799.5) scale(0.94 1)" font-size="8" text-anchor="middle" stroke="#000" stroke-width="0.22">1.0</text>
<text transform="translate(422.56 799.5) scale(0.94 1)" font-size="8" text-anchor="middle" stroke="#000" stroke-width="0.22">1.1</text>
<text transform="translate(437.3 799.5) scale(0.94 1)" font-size="8" text-anchor="middle" stroke="#000" stroke-width="0.22">1.2</text>
<text transform="translate(452.03 799.5) scale(0.94 1)" font-size="8" text-anchor="middle" stroke="#000" stroke-width="0.22">1.3</text>
<text transform="translate(466.76 799.5) scale(0.94 1)" font-size="8" text-anchor="middle" stroke="#000" stroke-width="0.22">1.4</text>
<text transform="translate(481.5 799.5) scale(0.94 1)" font-size="8" text-anchor="middle" stroke="#000" stroke-width="0.22">1.5</text>
<text x="143.6" y="806.8" font-size="9.3" text-anchor="middle" stroke="#000" stroke-width="0.2">R<tspan dy="2.8" font-size="8">0</tspan><tspan dy="-2.8"> [kpc]</tspan></text>
<text x="371.2" y="806.8" font-size="9.15" text-anchor="middle" stroke="#000" stroke-width="0.2">|Z<tspan dy="2.8" font-size="8">0</tspan><tspan dy="-2.8">| [kpc]</tspan></text>
</svg>
</body></html>
